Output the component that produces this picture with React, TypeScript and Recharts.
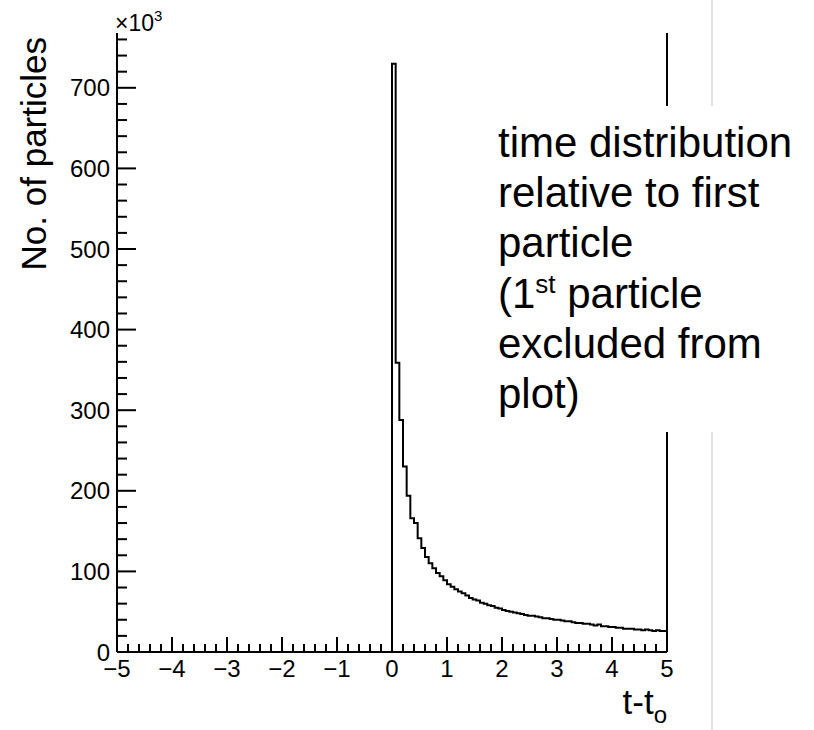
import { ComposedChart, Line, XAxis, YAxis, ReferenceLine } from "recharts"

const FONT = "'Liberation Sans', Arial, Helvetica, sans-serif"

// 150 bins on [-5, 5]; only bins from t=0 upward are filled
const BIN_WIDTH = 1 / 15
const counts = [
  730, 359, 288, 230, 194, 166, 160, 141, 129, 118,
  110, 104, 98, 94, 89, 84, 81, 78, 75, 73,
  70, 67, 65, 64, 61, 60, 58, 57, 55, 54,
  52, 51, 50, 49, 48, 47, 46, 45, 45, 44,
  43, 42, 42, 41, 40, 40, 39, 38, 38, 37,
  36, 36, 35, 35, 34, 33, 34, 32, 32, 31,
  31, 30, 30, 29, 29, 29, 28, 28, 27, 28,
  27, 26, 27, 26, 26,
]

const xMajor = [-5, -4, -3, -2, -1, 0, 1, 2, 3, 4, 5]
const yMajor = [0, 100, 200, 300, 400, 500, 600, 700]
const Y_MAX = 768

const xLabels: Record<number, string> = {
  "-5": "\u22125", "-4": "\u22124", "-3": "\u22123", "-2": "\u22122", "-1": "\u22121",
  0: "0", 1: "1", 2: "2", 3: "3", 4: "4", 5: "5",
}

// step points: empty range before 0, one point per bin low edge, closing point at 5
const histData = [
  { t: -5, n: 0 },
  ...counts.map((n, i) => ({ t: i * BIN_WIDTH, n })),
  { t: 5, n: counts[counts.length - 1] },
]

// 5 subdivisions per major tick
const xTicks = xMajor.flatMap((v, i) =>
  i < xMajor.length - 1 ? [0, 1, 2, 3, 4].map((k) => Math.round((v + k * 0.2) * 10) / 10) : [v]
)
const yTicks: number[] = []
for (let v = 0; v <= Y_MAX; v += 20) yTicks.push(v)

const XTick = (props: any) => {
  const { x, y, payload } = props
  const v = payload.value
  const major = Math.abs(v - Math.round(v)) < 1e-6
  return (
    <g>
      <line x1={x} x2={x} y1={y} y2={y - (major ? 15 : 8)} stroke="#000" strokeWidth={2} />
      {major && (
        <text x={x} y={y + 25} textAnchor="middle" fontSize={24} fontFamily={FONT} fill="#000">
          {xLabels[Math.round(v)]}
        </text>
      )}
    </g>
  )
}

const YTick = (props: any) => {
  const { x, y, payload } = props
  const v = payload.value
  const major = yMajor.includes(v)
  return (
    <g>
      <line x1={x} x2={x + (major ? 19 : 10)} y1={y} y2={y} stroke="#000" strokeWidth={2} />
      {major && (
        <text x={x - 7} y={y + 8.5} textAnchor="end" fontSize={24} fontFamily={FONT} fill="#000">
          {v}
        </text>
      )}
    </g>
  )
}

export default function App() {
  return (
    <div style={{ position: "absolute", left: 0, top: 0, width: 814, height: 730, background: "#fff" }}>
      <ComposedChart
        width={814}
        height={730}
        data={histData}
        margin={{ top: 33, right: 147, bottom: 48, left: 57 }}
      >
        <XAxis
          dataKey="t"
          type="number"
          domain={[-5, 5]}
          ticks={xTicks}
          interval={0}
          tickSize={0}
          tickMargin={0}
          height={30}
          tick={<XTick />}
          axisLine={{ stroke: "#000", strokeWidth: 2 }}
          allowDataOverflow
        />
        <YAxis
          type="number"
          domain={[0, Y_MAX]}
          ticks={yTicks}
          interval={0}
          tickSize={0}
          tickMargin={0}
          width={60}
          tick={<YTick />}
          axisLine={{ stroke: "#000", strokeWidth: 2 }}
          allowDataOverflow
        />
        <ReferenceLine x={5} stroke="#000" strokeWidth={2} />
        <Line
          dataKey="n"
          type="stepAfter"
          stroke="#000"
          strokeWidth={2}
          dot={false}
          activeDot={false}
          isAnimationActive={false}
        />
      </ComposedChart>

      <svg
        width={814}
        height={730}
        style={{ position: "absolute", left: 0, top: 0, pointerEvents: "none" }}
        fontFamily={FONT}
      >
        {/* thin separator on the right of the slide */}
        <line x1={712} x2={712} y1={0} y2={730} stroke="#c4c4c4" strokeWidth={1} />

        {/* multiplier */}
        <text x={115} y={31} fontSize={23} fill="#000">
          ×10
          <tspan fontSize={15} dy={-10}>3</tspan>
        </text>

        {/* axis titles */}
        <text transform="translate(46,37) rotate(-90)" textAnchor="end" fontSize={35} fill="#000">
          No. of particles
        </text>
        <text x={667} y={714} textAnchor="end" fontSize={35} fill="#000">
          t-t
          <tspan fontSize={24} dy={9}>o</tspan>
        </text>

        {/* annotation box */}
        <rect x={488} y={106} width={326} height={326} fill="#fff" />
        <g fontSize={42} fill="#000">
          <text x={498} y={157}>time distribution</text>
          <text x={498} y={207}>relative to first</text>
          <text x={498} y={257}>particle</text>
          <text x={498} y={308}>
            (1
            <tspan fontSize={26} dy={-15}>st</tspan>
            <tspan dy={15}> particle</tspan>
          </text>
          <text x={498} y={358}>excluded from</text>
          <text x={498} y={408}>plot)</text>
        </g>
      </svg>
    </div>
  )
}
